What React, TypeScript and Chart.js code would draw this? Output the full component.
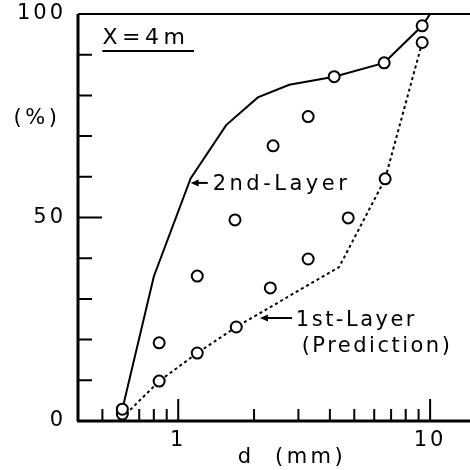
import React, { useEffect, useRef } from "react";
import { Chart, registerables } from "chart.js";

Chart.register(...registerables);

// Measured points (circles), two sample groups
const upperD = [0.6, 0.84, 1.19, 1.68, 2.38, 3.28, 4.16, 6.57, 9.3];
const upperP = [2.9, 19.2, 35.6, 49.4, 67.6, 74.8, 84.6, 88.0, 97.1];
const lowerD = [0.6, 0.84, 1.19, 1.7, 2.32, 3.28, 4.73, 6.63, 9.3];
const lowerP = [1.7, 9.8, 16.7, 23.1, 32.7, 39.8, 49.9, 59.5, 93.0];

// 2nd-Layer curve (solid)
const secondD = [0.6, 0.8, 1.12, 1.55, 2.07, 2.76, 4.16, 6.57, 9.3, 10.0];
const secondP = [2.9, 35.5, 59.6, 72.7, 79.5, 82.6, 84.6, 88.0, 97.1, 100];

// 1st-Layer prediction curve (dotted)
const firstD = [0.62, 0.84, 1.19, 1.7, 2.32, 4.35, 6.63, 9.3];
const firstP = [1.7, 9.8, 16.7, 23.1, 28.0, 37.8, 59.5, 93.0];

// Axis ticks
const xTickValues = [0.5, 0.6, 0.7, 0.8, 0.9, 1, 2, 3, 4, 5, 6, 7, 8, 9, 10];
const xLabeled = [1, 10];
const yLabeled = [0, 50, 100];

const FONT = "'DejaVu Sans', sans-serif";

const pts = (xs: number[], ys: number[]) => xs.map((x, i) => ({ x, y: ys[i] }));

const zeroPad = (s: any) => {
  s.paddingTop = 0;
  s.paddingBottom = 0;
  s.paddingLeft = 0;
  s.paddingRight = 0;
};

export default function App() {
  const ref = useRef<HTMLCanvasElement | null>(null);

  useEffect(() => {
    if (!ref.current) return;

    const frame = {
      id: "frame",
      beforeDraw(chart: any) {
        (chart.ctx as any).letterSpacing = "3px";
      },
      beforeDatasetsDraw(chart: any) {
        const { ctx, chartArea: a, scales } = chart;
        const xs = scales.x;
        const ys = scales.y;
        ctx.save();
        ctx.strokeStyle = "#000";
        ctx.lineCap = "butt";
        ctx.lineWidth = 2;
        ctx.beginPath();
        for (let v = 10; v < 100; v += 10) {
          const y = ys.getPixelForValue(v);
          const len = v === 50 ? 24 : 14;
          ctx.moveTo(a.left, y);
          ctx.lineTo(a.left + len, y);
        }
        for (const v of xTickValues) {
          const x = xs.getPixelForValue(v);
          const len = xLabeled.includes(v) ? 22 : 12;
          ctx.moveTo(x, a.bottom);
          ctx.lineTo(x, a.bottom - len);
        }
        ctx.stroke();
        ctx.lineWidth = 3;
        ctx.beginPath();
        ctx.moveTo(a.left, a.top);
        ctx.lineTo(a.left, a.bottom);
        ctx.moveTo(a.left - 1, a.bottom);
        ctx.lineTo(a.right, a.bottom);
        ctx.stroke();
        ctx.lineWidth = 2;
        ctx.beginPath();
        ctx.moveTo(a.left, a.top);
        ctx.lineTo(a.right, a.top);
        ctx.stroke();
        ctx.restore();
      },
      afterDraw(chart: any) {
        const { ctx, chartArea: a, scales } = chart;
        const X = (v: number) => scales.x.getPixelForValue(v);
        const Y = (v: number) => scales.y.getPixelForValue(v);
        ctx.save();
        ctx.fillStyle = "#000";
        ctx.strokeStyle = "#000";
        ctx.textBaseline = "middle";
        ctx.textAlign = "left";
        ctx.font = `22px ${FONT}`;
        (ctx as any).letterSpacing = "4.5px";
        ctx.fillText("X=4m", X(0.5), Y(94.1));
        ctx.lineWidth = 2;
        ctx.beginPath();
        ctx.moveTo(X(0.5), Y(90.9));
        ctx.lineTo(X(1.155), Y(90.9));
        ctx.stroke();

        (ctx as any).letterSpacing = "3.5px";
        ctx.font = `21px ${FONT}`;
        ctx.textAlign = "center";
        ctx.fillText("(%)", a.left - 41, Y(74.2));
        ctx.fillText("d  (mm)", X(2.83), a.bottom + 37);

        const arrow = (tip: number, tail: number, yv: number) => {
          const tx = X(tip);
          const ty = Y(yv);
          ctx.lineWidth = 2;
          ctx.beginPath();
          ctx.moveTo(tx + 6, ty);
          ctx.lineTo(X(tail), ty);
          ctx.stroke();
          ctx.beginPath();
          ctx.moveTo(tx, ty);
          ctx.lineTo(tx + 8, ty - 3.5);
          ctx.lineTo(tx + 8, ty + 3.5);
          ctx.closePath();
          ctx.fill();
        };
        ctx.textAlign = "left";
        arrow(1.12, 1.31, 58.5);
        ctx.fillText("2nd-Layer", X(1.37), Y(58.0));
        arrow(2.11, 2.83, 25.3);
        (ctx as any).letterSpacing = "2.5px";
        ctx.fillText("1st-Layer", X(2.93), Y(24.8));
        ctx.fillText("(Prediction)", X(3.09), Y(18.2));
        ctx.restore();
      },
    };

    const chart = new Chart(ref.current, {
      type: "scatter",
      data: {
        datasets: [
          {
            label: "measured A",
            data: pts(upperD, upperP),
            showLine: false,
            pointRadius: 5.5,
            pointBorderWidth: 2,
            pointBorderColor: "#000",
            pointBackgroundColor: "#fff",
          },
          {
            label: "measured B",
            data: pts(lowerD, lowerP),
            showLine: false,
            pointRadius: 5.5,
            pointBorderWidth: 2,
            pointBorderColor: "#000",
            pointBackgroundColor: "#fff",
          },
          {
            label: "2nd-Layer",
            data: pts(secondD, secondP),
            showLine: true,
            pointRadius: 0,
            borderColor: "#000",
            borderWidth: 2,
            tension: 0,
            clip: false as any,
          },
          {
            label: "1st-Layer (Prediction)",
            data: pts(firstD, firstP),
            showLine: true,
            pointRadius: 0,
            borderColor: "#000",
            borderWidth: 2,
            borderDash: [3, 3],
            tension: 0,
          },
        ],
      },
      options: {
        animation: false,
        responsive: false,
        layout: { autoPadding: false, padding: { top: 14, right: 0, left: 0, bottom: 0 } },
        plugins: { legend: { display: false }, tooltip: { enabled: false } },
        scales: {
          x: {
            type: "logarithmic",
            min: 0.4,
            max: 14.4,
            afterBuildTicks: (s: any) => {
              s.ticks = xTickValues.map((v) => ({ value: v }));
            },
            afterFit: (s: any) => {
              s.height = 49;
              zeroPad(s);
            },
            grid: { display: false, drawTicks: false },
            border: { display: false },
            ticks: {
              autoSkip: false,
              maxRotation: 0,
              padding: 7,
              color: "#000",
              font: { family: FONT, size: 21 },
              callback: (v: any) => (xLabeled.includes(Number(v)) ? String(v) : ""),
            },
          },
          y: {
            type: "linear",
            min: 0,
            max: 100,
            afterFit: (s: any) => {
              s.width = 78;
              zeroPad(s);
            },
            grid: { display: false, drawTicks: false },
            border: { display: false },
            ticks: {
              stepSize: 10,
              padding: 12,
              color: "#000",
              font: { family: FONT, size: 21 },
              callback: (v: any) => (yLabeled.includes(Number(v)) ? String(v) : ""),
            },
          },
        },
      },
      plugins: [frame],
    });
    return () => chart.destroy();
  }, []);

  return (
    <div style={{ position: "absolute", left: 0, top: 0, width: 470, height: 470, background: "#fff" }}>
      <canvas ref={ref} width={470} height={470} />
    </div>
  );
}
